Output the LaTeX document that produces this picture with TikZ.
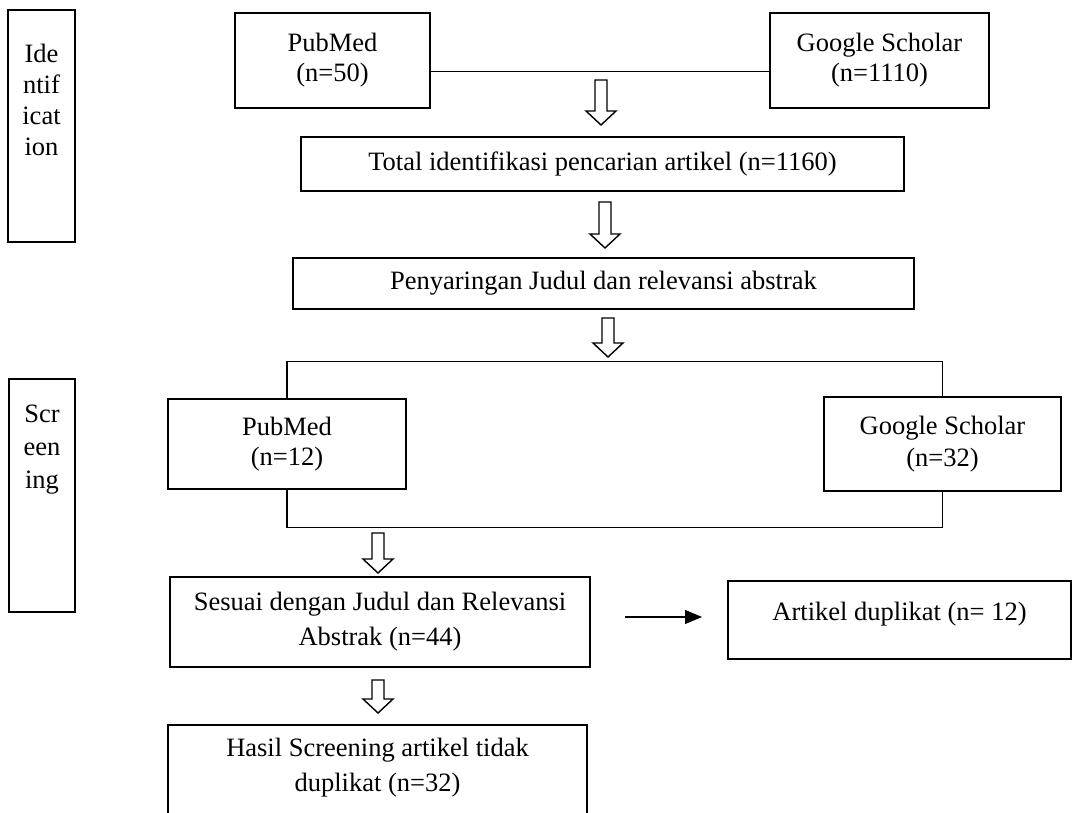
\documentclass[tikz,border=0pt]{standalone}
\usepackage{fontspec}
\setmainfont{Liberation Serif}
\usetikzlibrary{arrows.meta}
\newcommand\harrowat[3]{%
  \draw[harrow] (#1-6,#2) -- (#1+6,#2) -- (#1+6,#3-14) -- (#1+15,#3-14) -- (#1,#3) -- (#1-15,#3-14) -- (#1-6,#3-14) -- cycle;}
\begin{document}
\begin{tikzpicture}[x=1pt,y=-1pt,
  box/.style={draw, line width=1.6pt, inner sep=0pt, align=center, font=\fontsize{26.5}{30}\selectfont},
  lbl/.style={align=center, inner sep=0pt, font=\fontsize{26.5}{31}\selectfont},
  link/.style={line width=1.1pt},
  harrow/.style={draw, line width=1.4pt, fill=white, line join=miter}]
\useasboundingbox (0,0) rectangle (1073,813);
\clip (0,0) rectangle (1073,813);

% stage labels
\node[box, minimum width=67, minimum height=232,
  label={[lbl, yshift=26pt]center:Ide\\ntif\\icat\\ion}] (ident) at (41.5,126) {};
\node[box, minimum width=66, minimum height=233,
  label={[lbl, yshift=45.5pt, font=\fontsize{26.5}{33}\selectfont]center:Scr\\een\\ing}] (screen) at (42,495.5) {};

% identification
\node[box, minimum width=195, minimum height=95] (pm1) at (332.5,60.5) {PubMed\\(n=50)};
\node[box, minimum width=219, minimum height=95] (gs1) at (879.5,60.5) {Google Scholar\\(n=1110)};
\node[box, minimum width=603, minimum height=54] (tot) at (602.5,164) {Total identifikasi pencarian artikel (n=1160)};
\node[box, minimum width=621, minimum height=51] (pen) at (603.5,283.5) {Penyaringan Judul dan relevansi abstrak};

% screening
\node[box, minimum width=238, minimum height=90] (pm2) at (287,444) {PubMed\\(n=12)};
\node[box, minimum width=237, minimum height=94, font=\fontsize{26.5}{32}\selectfont] (gs2) at (942.5,444) {Google Scholar\\(n=32)};
\node[box, minimum width=420, minimum height=90, font=\fontsize{26.5}{35}\selectfont] (ses) at (380,622) {Sesuai dengan Judul dan Relevansi\\Abstrak (n=44)};
\node[box, minimum width=343, minimum height=78,
  label={[lbl, yshift=6pt]center:Artikel duplikat (n= 12)}] (art) at (899.5,620) {};
\node[box, minimum width=419, minimum height=110,
  label={[lbl, yshift=12.5pt, font=\fontsize{26.5}{35}\selectfont]center:Hasil Screening artikel tidak\\duplikat (n=32)}] (hasil) at (377.5,780) {};

% connectors
\draw[link] ([yshift=-11pt]pm1.east) -- ([yshift=-11pt]gs1.west);
\draw[link] (pm2.north) -- ++(0,-37) -| (gs2.north);
\draw[link] (pm2.south) -- ++(0,38) -| (gs2.south);
\coordinate (dupfrom) at (625,617);
\coordinate (dupto) at (702,617);
\draw[link, -{Triangle[length=17pt,width=14pt]}] (dupfrom) -- (dupto);

% hollow block arrows
\harrowat{601}{80}{125}
\harrowat{605}{202}{248}
\harrowat{608}{318}{357}
\harrowat{378}{533}{573}
\harrowat{378}{680}{713}
\end{tikzpicture}
\end{document}
